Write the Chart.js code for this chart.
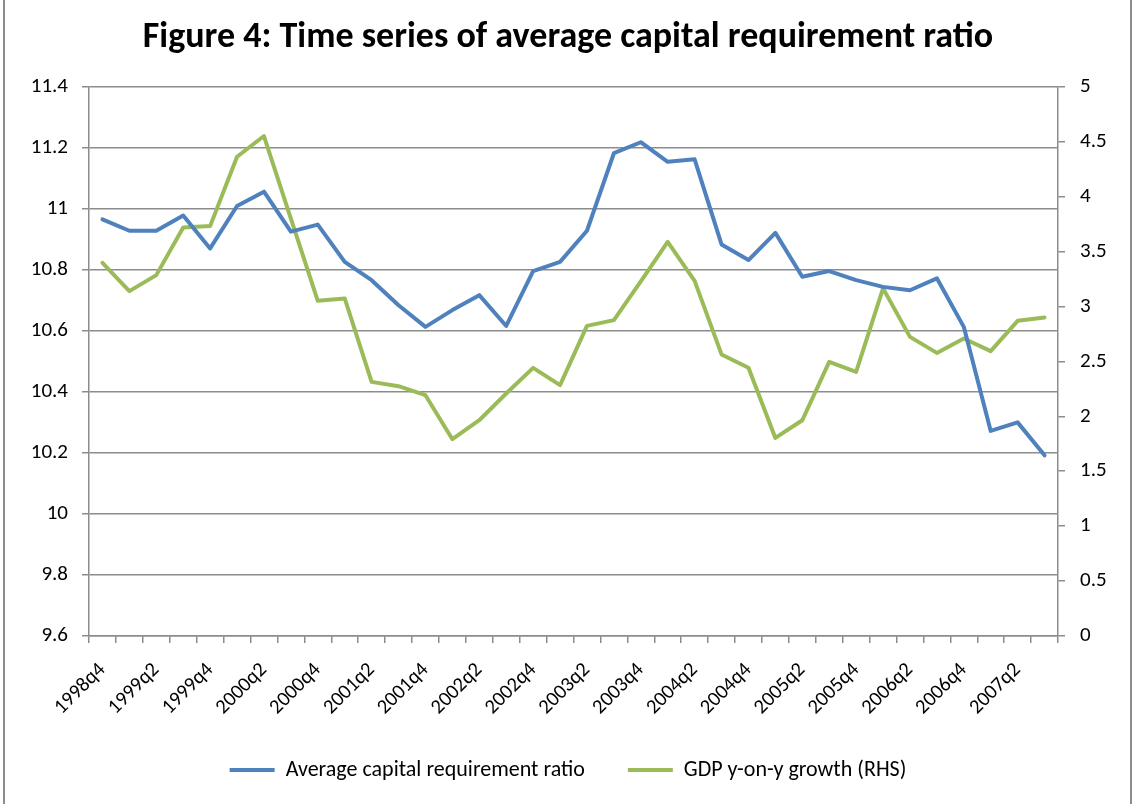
<!DOCTYPE html>
<html>
<head>
<meta charset="utf-8">
<script src="https://cdn.jsdelivr.net/npm/chart.js@4"></script>
<style>
  html, body { margin: 0; padding: 0; background: #ffffff; }
  #wrap { width: 1136px; height: 804px; position: relative; }
</style>
</head>
<body>
<div id="wrap"><canvas id="c" width="1136" height="804"></canvas></div>
<script>
const categories = [
  "1998q4","1999q1","1999q2","1999q3","1999q4","2000q1","2000q2","2000q3","2000q4",
  "2001q1","2001q2","2001q3","2001q4","2002q1","2002q2","2002q3","2002q4",
  "2003q1","2003q2","2003q3","2003q4","2004q1","2004q2","2004q3","2004q4",
  "2005q1","2005q2","2005q3","2005q4","2006q1","2006q2","2006q3","2006q4",
  "2007q1","2007q2","2007q3"
];
const capitalRatio = [
  10.965, 10.928, 10.928, 10.978, 10.870, 11.009, 11.056, 10.925, 10.948,
  10.826, 10.766, 10.684, 10.613, 10.668, 10.717, 10.616, 10.796,
  10.826, 10.928, 11.182, 11.218, 11.154, 11.162, 10.883, 10.832,
  10.921, 10.777, 10.796, 10.766, 10.744, 10.733, 10.772, 10.613,
  10.272, 10.300, 10.192
];
const gdpGrowth = [
  3.397, 3.139, 3.285, 3.719, 3.731, 4.362, 4.551, 3.800, 3.051,
  3.073, 2.313, 2.274, 2.192, 1.791, 1.964, 2.207, 2.441,
  2.283, 2.823, 2.875, 3.228, 3.588, 3.233, 2.563, 2.441,
  1.803, 1.964, 2.496, 2.404, 3.164, 2.723, 2.577, 2.708,
  2.593, 2.869, 2.900
];
const seriesNames = ["Average capital requirement ratio", "GDP y-on-y growth (RHS)"];
const titleText = "Figure 4: Time series of average capital requirement ratio";

const FONT = "Carlito, Lato, 'Open Sans', sans-serif";
const gridGray = "#8c8c8c";
const fmt = v => String(Number(Number(v).toFixed(1)));

const sideBorders = {
  id: "sideBorders",
  afterDraw(chart) {
    const ctx = chart.ctx;
    ctx.save();
    ctx.strokeStyle = "#8c8c8c";
    ctx.lineWidth = 2;
    ctx.beginPath();
    ctx.moveTo(4, 0); ctx.lineTo(4, chart.height);
    ctx.moveTo(1131, 0); ctx.lineTo(1131, chart.height);
    ctx.stroke();
    ctx.restore();
  }
};

new Chart(document.getElementById("c"), {
  type: "line",
  data: {
    labels: categories,
    datasets: [
      {
        label: seriesNames[0],
        data: capitalRatio,
        yAxisID: "y",
        borderColor: "#4f81bd",
        backgroundColor: "#4f81bd",
        borderWidth: 4,
        pointRadius: 0,
        tension: 0,
        borderJoinStyle: "round",
        borderCapStyle: "round"
      },
      {
        label: seriesNames[1],
        data: gdpGrowth,
        yAxisID: "y1",
        borderColor: "#9bbb59",
        backgroundColor: "#9bbb59",
        borderWidth: 4,
        pointRadius: 0,
        tension: 0,
        borderJoinStyle: "round",
        borderCapStyle: "round"
      }
    ]
  },
  options: {
    responsive: false,
    animation: false,
    devicePixelRatio: 1,
    layout: { padding: { left: 0, right: 0, top: 0, bottom: 13 } },
    plugins: {
      title: {
        display: true,
        text: titleText,
        color: "#000000",
        font: { family: FONT, size: 36, weight: "bold" },
        padding: { top: 16, bottom: 27.5 }
      },
      legend: {
        position: "bottom",
        labels: {
          usePointStyle: true,
          pointStyle: "line",
          pointStyleWidth: 45,
          boxHeight: 18,
          padding: 43,
          color: "#000000",
          font: { family: FONT, size: 22 }
        }
      },
      tooltip: { enabled: false }
    },
    scales: {
      x: {
        type: "category",
        offset: true,
        grid: { offset: true, drawOnChartArea: false, drawTicks: true, tickLength: 7, color: gridGray, lineWidth: 1.5 },
        border: { color: gridGray, width: 1.5 },
        ticks: {
          autoSkip: false,
          maxRotation: 45,
          minRotation: 45,
          padding: 15,
          color: "#000000",
          font: { family: FONT, size: 20.5 },
          callback: function(value, index) { return index % 2 === 0 ? this.getLabelForValue(value) : ""; }
        },
        afterFit(scale) { scale.height = 80; }
      },
      y: {
        position: "left",
        min: 9.6,
        max: 11.4,
        grid: { color: gridGray, lineWidth: 1.5, tickLength: 7 },
        border: { color: gridGray, width: 1.5 },
        ticks: {
          stepSize: 0.2,
          padding: 14,
          color: "#000000",
          font: { family: FONT, size: 21 },
          callback: v => fmt(v)
        },
        afterFit(scale) { scale.width = 89; }
      },
      y1: {
        position: "right",
        min: 0,
        max: 5,
        grid: { drawOnChartArea: false, color: gridGray, lineWidth: 1.5, tickLength: 7 },
        border: { color: gridGray, width: 1.5 },
        ticks: {
          stepSize: 0.5,
          padding: 15,
          color: "#000000",
          font: { family: FONT, size: 21 },
          callback: v => fmt(v)
        },
        afterFit(scale) { scale.width = 78; }
      }
    }
  },
  plugins: [sideBorders]
});
</script>
</body>
</html>
